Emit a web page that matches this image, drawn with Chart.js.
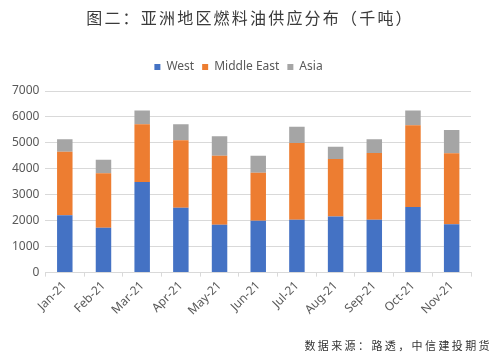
<!DOCTYPE html>
<html>
<head>
<meta charset="utf-8">
<script src="https://cdn.jsdelivr.net/npm/chart.js@4/dist/chart.umd.min.js"></script>
<style>
  html, body { margin: 0; padding: 0; background: #fff; }
  #wrap { position: relative; width: 500px; height: 357px; overflow: hidden; }
  #title { position: absolute; left: 0; top: 7px; width: 500px; text-align: center;
           font-family: "Noto Sans CJK SC", sans-serif; font-size: 16px; letter-spacing: 2.2px;
           color: #3a3a3a; line-height: 20px; }
  #source { position: absolute; right: 8px; top: 338px;
            font-family: "Noto Sans CJK SC", sans-serif; font-size: 11px; letter-spacing: 2.4px;
            color: #333; line-height: 14px; }
  #cv { position: absolute; left: 0; top: 0; }
</style>
</head>
<body>
<div id="wrap">
  <canvas id="cv" width="500" height="357"></canvas>
  <div id="title">图二：亚洲地区燃料油供应分布（千吨）</div>
  <div id="source">数据来源：路透，中信建投期货</div>
</div>
<script>
const months = ["Jan-21","Feb-21","Mar-21","Apr-21","May-21","Jun-21","Jul-21","Aug-21","Sep-21","Oct-21","Nov-21"];
const west       = [2210, 1730, 3490, 2500, 1840, 2000, 2040, 2160, 2040, 2530, 1860];
const middleEast = [2450, 2100, 2230, 2600, 2660, 1850, 2960, 2220, 2570, 3150, 2740];
const asia       = [ 480,  520,  530,  620,  760,  650,  620,  470,  530,  570,  900];
const yTicks = [0, 1000, 2000, 3000, 4000, 5000, 6000, 7000];

const font = "'Noto Sans', 'Open Sans', sans-serif";
const legendGap = {
  id: 'legendGap',
  beforeInit(chart) {
    const origFit = chart.legend.fit;
    chart.legend.fit = function () { origFit.bind(chart.legend)(); this.height += 8; };
  }
};
new Chart(document.getElementById('cv'), {
  type: 'bar',
  plugins: [legendGap],
  data: {
    labels: months,
    datasets: [
      { label: 'West', data: west, backgroundColor: '#4472C4' },
      { label: 'Middle East', data: middleEast, backgroundColor: '#ED7D31' },
      { label: 'Asia', data: asia, backgroundColor: '#A5A5A5' }
    ]
  },
  options: {
    responsive: false,
    animation: false,
    devicePixelRatio: 1,
    barPercentage: 0.4,
    categoryPercentage: 1.0,
    layout: { padding: { top: 53, right: 29, bottom: 37, left: 6 } },
    plugins: {
      legend: {
        position: 'top',
        labels: { boxWidth: 6, boxHeight: 6, padding: 8, color: '#595959',
                  font: { family: font, size: 12 } }
      },
      tooltip: { enabled: false }
    },
    scales: {
      x: {
        stacked: true,
        grid: { display: true, drawOnChartArea: false, drawTicks: true, tickLength: 4, color: '#D9D9D9', offset: true },
        border: { color: '#D9D9D9' },
        ticks: { color: '#595959', font: { family: font, size: 12 }, minRotation: 45, maxRotation: 45, padding: 2 }
      },
      y: {
        stacked: true,
        min: 0, max: 7000,
        afterBuildTicks: (axis) => { axis.ticks = yTicks.map(v => ({ value: v })); },
        grid: { color: '#D9D9D9', drawTicks: false },
        border: { display: false },
        ticks: { color: '#595959', font: { family: font, size: 12 }, padding: 6,
                 callback: (v) => String(v) }
      }
    }
  }
});
</script>
</body>
</html>
